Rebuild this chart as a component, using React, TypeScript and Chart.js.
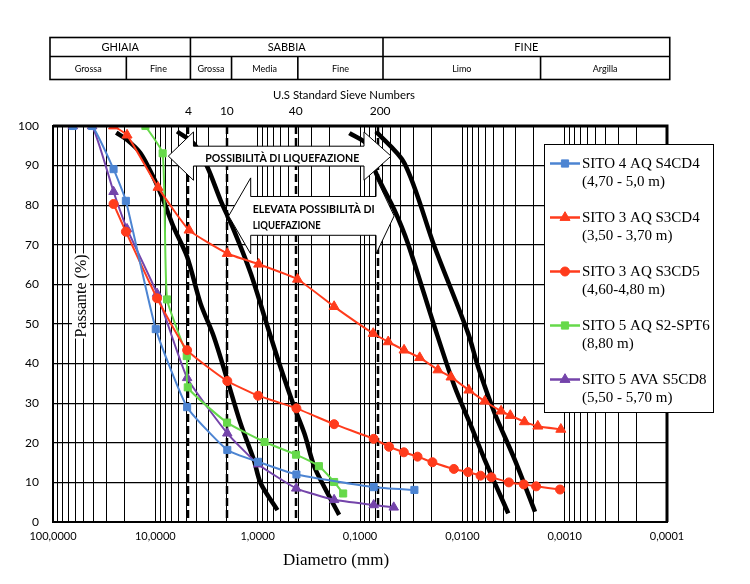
import React, { useEffect, useRef } from "react";
import { Chart, registerables } from "chart.js";

Chart.register(...registerables);

// ---------------- DATA ----------------
// SITO 4 AQ S4CD4
const s4Diam = [64, 41.5, 25.6, 19.4, 9.9, 4.89, 1.98, 0.99, 0.418, 0.0735, 0.0294];
const s4Pass = [100, 100, 89.1, 81.1, 48.7, 29.0, 18.2, 15.2, 12.0, 8.8, 8.1];
// SITO 3 AQ S3CD4
const s3cd4Diam = [25.6, 18.9, 9.41, 4.68, 1.98, 0.977, 0.408, 0.179, 0.0743, 0.053, 0.0371, 0.0261, 0.0173, 0.0129, 0.00863, 0.00604, 0.00418, 0.0034, 0.00247, 0.00183, 0.00109];
const s3cd4Pass = [100, 97.7, 84.5, 73.7, 67.8, 65.1, 61.3, 54.4, 47.6, 45.5, 43.4, 41.5, 38.4, 36.6, 33.3, 30.5, 28.0, 26.9, 25.3, 24.2, 23.4];
// SITO 3 AQ S3CD5
const s3cd5Diam = [25.6, 19.4, 9.62, 4.89, 1.98, 0.99, 0.418, 0.179, 0.0735, 0.052, 0.0373, 0.0274, 0.0196, 0.0121, 0.00879, 0.00664, 0.0052, 0.00351, 0.00251, 0.0019, 0.00111];
const s3cd5Pass = [80.3, 73.3, 56.5, 43.4, 35.6, 31.9, 28.7, 24.7, 21.0, 19.0, 17.6, 16.5, 15.1, 13.4, 12.6, 11.7, 11.3, 10.0, 9.5, 9.0, 8.2];
// SITO 5 AQ S2-SPT6
const s5spt6Diam = [12.5, 8.48, 7.68, 4.93, 4.82, 1.99, 0.857, 0.422, 0.252, 0.179, 0.146];
const s5spt6Pass = [100, 93.1, 56.2, 41.9, 34.0, 25.1, 20.2, 17.0, 14.1, 10.1, 7.2];
// SITO 5 AVA S5CD8
const s5cd8Diam = [64, 41.5, 25.6, 18.9, 9.62, 4.89, 1.98, 0.99, 0.42, 0.179, 0.0735, 0.0468];
const s5cd8Pass = [100, 100, 83.4, 74.0, 57.7, 36.4, 22.4, 14.6, 8.5, 5.6, 4.3, 3.7];

// Liquefaction boundary curves (black)
const bandADiam = [24.1, 18.9, 14.0, 10.5, 8.6, 6.66, 4.89, 3.62, 2.68, 1.98, 1.47, 1.09, 0.935, 0.641];
const bandAPass = [98.3, 96.5, 93.2, 87.2, 82.1, 74.6, 67.0, 55.2, 46.8, 35.9, 24.9, 15.7, 9.8, 3.0];
const bandBDiam = [6.12, 4.22, 3.11, 2.31, 1.71, 1.17, 0.80, 0.60, 0.44, 0.35, 0.28, 0.224, 0.16];
const bandBPass = [98.6, 95.6, 89.7, 81.3, 73.7, 62.8, 49.3, 39.2, 29.1, 22.4, 14.0, 8.9, 1.8];
const bandCDiam = [0.127, 0.0841, 0.0697, 0.0461, 0.0341, 0.0187, 0.0119, 0.00817, 0.00604, 0.00356];
const bandCPass = [98.2, 95.2, 88.1, 78.8, 70.4, 49.3, 34.2, 24.1, 15.7, 2.2];
const bandDDiam = [0.0697, 0.0368, 0.0187, 0.00879, 0.00702, 0.00482, 0.00307, 0.00195];
const bandDPass = [98.6, 90.6, 69.5, 47.7, 39.2, 27.4, 15.7, 2.6];

// Sieves
const sieveSizes = [4.75, 2.0, 0.425, 0.0665];
const sieveLabels = ["4", "10", "40", "200"];

// Axis ticks
const xDecades = [100, 10, 1, 0.1, 0.01, 0.001, 0.0001];
const xMultipliers = [1, 2, 3, 4, 5, 6, 7, 8, 9];
const yTickValues = [0, 10, 20, 30, 40, 50, 60, 70, 80, 90, 100];

// Header classification table
const groupLabels = ["GHIAIA", "SABBIA", "FINE"];
const groupBounds = [107, 4.54, 0.0596, 0.000094];
const subLabels = ["Grossa", "Fine", "Grossa", "Media", "Fine", "Limo", "Argilla"];
const subBounds = [107, 19.2, 4.54, 1.8, 0.405, 0.0596, 0.00172, 0.000094];

// Legend
const seriesNames = ["SITO 4 AQ S4CD4", "SITO 3 AQ S3CD4", "SITO 3 AQ S3CD5", "SITO 5 AQ S2-SPT6", "SITO 5 AVA S5CD8"];
const seriesDepths = ["(4,70 - 5,0 m)", "(3,50 - 3,70 m)", "(4,60-4,80 m)", "(8,80 m)", "(5,50 - 5,70 m)"];

const BLUE = "#4C84D2";
const RED = "#FF3B1C";
const GREEN = "#66D94A";
const PURPLE = "#7444AA";
const seriesColors = [BLUE, RED, RED, GREEN, PURPLE];
const seriesStyles = ["rect", "triangle", "circle", "rect", "triangle"];

// Arrows (diameter / percent)
const arrow1 = { tipL: 7.46, baseL: 4.24, baseR: 0.0914, tipR: 0.0497, yc: 92.4, head: 6.1, shaft: 2.5 };
const arrow2 = { tipL: 1.92, baseL: 1.17, baseR: 0.0697, tipR: 0.0464, yc: 77.3, head: 9.6, shaft: 4.9 };

// ---------------- HELPERS ----------------
const pts = (d: number[], p: number[]) => d.map((v, i) => ({ x: v, y: p[i] }));

const SANS = "Lato, 'Open Sans', sans-serif";
const SERIF = "'Liberation Serif', 'DejaVu Serif', serif";

function drawMarker(ctx: CanvasRenderingContext2D, style: string, x: number, y: number, color: string) {
  ctx.fillStyle = color;
  ctx.strokeStyle = color;
  ctx.lineWidth = 1;
  ctx.beginPath();
  if (style === "rect") {
    const s = 3.6;
    ctx.rect(x - s, y - s, 2 * s, 2 * s);
  } else if (style === "circle") {
    ctx.arc(x, y, 4.5, 0, Math.PI * 2);
  } else {
    const r = 5.8;
    let a = 0;
    ctx.moveTo(x + Math.sin(a) * r, y - Math.cos(a) * r);
    a += (Math.PI * 2) / 3;
    ctx.lineTo(x + Math.sin(a) * r, y - Math.cos(a) * r);
    a += (Math.PI * 2) / 3;
    ctx.lineTo(x + Math.sin(a) * r, y - Math.cos(a) * r);
    ctx.closePath();
  }
  ctx.fill();
  ctx.stroke();
}

function drawDoubleArrow(chart: any, a: any) {
  const { ctx, scales } = chart;
  const x = scales.x, y = scales.y;
  const xl = x.getPixelForValue(a.tipL);
  const xlb = x.getPixelForValue(a.baseL);
  const xrb = x.getPixelForValue(a.baseR);
  const xr = x.getPixelForValue(a.tipR);
  const yc = y.getPixelForValue(a.yc);
  const hh = y.getPixelForValue(a.yc - a.head) - yc;
  const sh = y.getPixelForValue(a.yc - a.shaft) - yc;
  ctx.save();
  ctx.beginPath();
  ctx.moveTo(xl, yc);
  ctx.lineTo(xlb, yc - hh);
  ctx.lineTo(xlb, yc - sh);
  ctx.lineTo(xrb, yc - sh);
  ctx.lineTo(xrb, yc - hh);
  ctx.lineTo(xr, yc);
  ctx.lineTo(xrb, yc + hh);
  ctx.lineTo(xrb, yc + sh);
  ctx.lineTo(xlb, yc + sh);
  ctx.lineTo(xlb, yc + hh);
  ctx.closePath();
  ctx.fillStyle = "#fff";
  ctx.fill();
  ctx.strokeStyle = "#000";
  ctx.lineWidth = 1;
  ctx.stroke();
  ctx.restore();
}

const overlay = {
  id: "overlay",
  beforeDatasetsDraw(chart: any) {
    const { ctx, chartArea: ca, scales } = chart;
    ctx.save();
    ctx.strokeStyle = "#000";
    ctx.lineWidth = 2.5;
    ctx.setLineDash([8, 4]);
    sieveSizes.forEach((v) => {
      const px = Math.round(scales.x.getPixelForValue(v));
      ctx.beginPath();
      ctx.moveTo(px, ca.top);
      ctx.lineTo(px, ca.bottom);
      ctx.stroke();
    });
    ctx.restore();
  },
  afterDatasetsDraw(chart: any) {
    const { ctx, chartArea: ca, scales } = chart;
    const x = scales.x, y = scales.y;

    // arrows
    drawDoubleArrow(chart, arrow1);
    drawDoubleArrow(chart, arrow2);

    ctx.save();
    ctx.fillStyle = "#000";
    ctx.font = `bold 12px ${SANS}`;
    ctx.textAlign = "center";
    ctx.textBaseline = "middle";
    ctx.fillText("POSSIBILITÀ DI LIQUEFAZIONE", x.getPixelForValue(0.575), y.getPixelForValue(91.9), 154);
    ctx.textAlign = "left";
    ctx.fillText("ELEVATA POSSIBILITÀ DI", x.getPixelForValue(1.12), y.getPixelForValue(79.0), 122);
    ctx.fillText("LIQUEFAZIONE", x.getPixelForValue(1.12), y.getPixelForValue(75.0), 68);
    ctx.restore();

    // plot border
    ctx.save();
    ctx.strokeStyle = "#000";
    ctx.lineWidth = 2;
    ctx.strokeRect(ca.left, ca.top, ca.right - ca.left, ca.bottom - ca.top);
    ctx.beginPath();
    ctx.lineWidth = 3;
    ctx.moveTo(ca.left, ca.top);
    ctx.lineTo(ca.right, ca.top);
    ctx.lineTo(ca.right, ca.bottom);
    ctx.stroke();
    ctx.restore();

    // y-axis title inside plot
    ctx.save();
    ctx.font = `16px ${SERIF}`;
    const t = "Passante (%)";
    const tw = ctx.measureText(t).width;
    ctx.translate(81, 296);
    ctx.rotate(-Math.PI / 2);
    ctx.fillStyle = "#fff";
    ctx.fillRect(-tw / 2 - 1, -9, tw + 2, 18);
    ctx.fillStyle = "#000";
    ctx.textAlign = "center";
    ctx.textBaseline = "middle";
    ctx.fillText(t, 0, 1);
    ctx.restore();

    // legend
    ctx.save();
    const lx = 544, ly = 144, lw = 169, lh = 268;
    ctx.fillStyle = "#fff";
    ctx.fillRect(lx, ly, lw, lh);
    ctx.strokeStyle = "#000";
    ctx.lineWidth = 1;
    ctx.strokeRect(lx + 0.5, ly + 0.5, lw, lh);
    ctx.font = `15px ${SERIF}`;
    ctx.textBaseline = "middle";
    ctx.textAlign = "left";
    seriesNames.forEach((name, i) => {
      const yy = 163.5 + i * 54;
      ctx.strokeStyle = seriesColors[i];
      ctx.lineWidth = 2.5;
      ctx.beginPath();
      ctx.moveTo(550, yy);
      ctx.lineTo(580, yy);
      ctx.stroke();
      drawMarker(ctx, seriesStyles[i], 565, yy, seriesColors[i]);
      ctx.fillStyle = "#000";
      ctx.fillText(name, 582, yy + 1);
      ctx.fillText(seriesDepths[i], 582, yy + 19);
    });
    ctx.restore();
  },
  afterDraw(chart: any) {
    const { ctx, scales } = chart;
    const x = scales.x;
    ctx.save();
    // header table
    const top = 37.5, mid = 56.5, bot = 79.5;
    ctx.strokeStyle = "#000";
    ctx.lineWidth = 1.6;
    const gx = groupBounds.map((v) => x.getPixelForValue(v));
    const sx = subBounds.map((v) => x.getPixelForValue(v));
    ctx.strokeRect(gx[0], top, gx[gx.length - 1] - gx[0], bot - top);
    ctx.beginPath();
    ctx.moveTo(gx[0], mid);
    ctx.lineTo(gx[gx.length - 1], mid);
    gx.slice(1, -1).forEach((px) => {
      ctx.moveTo(px, top);
      ctx.lineTo(px, bot);
    });
    sx.slice(1, -1).forEach((px) => {
      ctx.moveTo(px, mid);
      ctx.lineTo(px, bot);
    });
    ctx.stroke();
    ctx.fillStyle = "#000";
    ctx.textAlign = "center";
    ctx.textBaseline = "middle";
    ctx.font = `11px ${SANS}`;
    groupLabels.forEach((l, i) => ctx.fillText(l, (gx[i] + gx[i + 1]) / 2, (top + mid) / 2 + 0.5));
    ctx.font = `9px ${SANS}`;
    subLabels.forEach((l, i) => ctx.fillText(l, (sx[i] + sx[i + 1]) / 2, (mid + bot) / 2 + 1));

    // sieve labels
    ctx.font = `12px ${SANS}`;
    ctx.fillText("U.S Standard Sieve Numbers", 344, 95, 142);
    sieveLabels.forEach((l, i) => {
      const px = x.getPixelForValue(sieveSizes[i]);
      ctx.fillText(l, px + (i === 3 ? 2 : 0), 111);
    });

    // x title
    ctx.font = `17px ${SERIF}`;
    ctx.fillText("Diametro (mm)", 336, 561);
    ctx.restore();
  },
};

const xGridValues: number[] = [];
[0.0001, 0.001, 0.01, 0.1, 1, 10].forEach((dec) => {
  xMultipliers.forEach((m) => xGridValues.push(+(m * dec).toPrecision(6)));
});
xGridValues.push(100);

const isDecade = (v: number) => xDecades.some((d) => Math.abs(d - v) / d < 1e-6);

export default function App() {
  const ref = useRef<HTMLCanvasElement>(null);
  useEffect(() => {
    const canvas = ref.current!;
    const seriesD = [s4Diam, s3cd4Diam, s3cd5Diam, s5spt6Diam, s5cd8Diam];
    const seriesP = [s4Pass, s3cd4Pass, s3cd5Pass, s5spt6Pass, s5cd8Pass];
    const radii = [5, 5.8, 4.5, 5, 5.5];
    const datasets: any[] = seriesNames.map((name, i) => ({
      label: name,
      data: pts(seriesD[i], seriesP[i]),
      showLine: true,
      borderColor: seriesColors[i],
      backgroundColor: seriesColors[i],
      pointBackgroundColor: seriesColors[i],
      pointBorderColor: seriesColors[i],
      pointStyle: seriesStyles[i],
      pointRadius: radii[i],
      pointBorderWidth: 1,
      borderWidth: 2,
      tension: 0.15,
      order: 1,
    }));
    [
      [bandADiam, bandAPass],
      [bandBDiam, bandBPass],
      [bandCDiam, bandCPass],
      [bandDDiam, bandDPass],
    ].forEach(([d, p], i) => {
      datasets.push({
        label: "limite " + i,
        data: pts(d, p),
        showLine: true,
        borderColor: "#000",
        backgroundColor: "#000",
        pointRadius: 0,
        borderWidth: 4.5,
        tension: 0.3,
        order: 10,
      });
    });

    const chart = new Chart(canvas, {
      type: "scatter",
      data: { datasets },
      options: {
        animation: false,
        responsive: false,
        devicePixelRatio: 1,
        layout: { padding: { top: 126, right: 83, left: 0, bottom: 0 } },
        plugins: { legend: { display: false }, tooltip: { enabled: false } },
        scales: {
          x: {
            type: "logarithmic",
            reverse: true,
            min: 0.0001,
            max: 100,
            afterBuildTicks: (s: any) => {
              s.ticks = xGridValues.map((v) => ({ value: v }));
            },
            afterFit: (s: any) => {
              s.height = 62;
            },
            ticks: {
              autoSkip: false,
              maxRotation: 0,
              padding: 8,
              color: "#000",
              font: { family: SANS, size: 11 },
              callback: (v: any) => (isDecade(Number(v)) ? Number(v).toFixed(4).replace(".", ",") : ""),
            },
            grid: { color: "#000", lineWidth: 1, drawTicks: false },
            border: { color: "#000", width: 2 },
          },
          y: {
            type: "linear",
            min: 0,
            max: 100,
            afterBuildTicks: (s: any) => {
              s.ticks = yTickValues.map((v) => ({ value: v }));
            },
            afterFit: (s: any) => {
              s.width = 53;
            },
            ticks: {
              padding: 14,
              color: "#000",
              font: { family: SANS, size: 12 },
            },
            grid: { color: "#000", lineWidth: 1.2, drawTicks: false },
            border: { color: "#000", width: 2 },
          },
        },
      } as any,
      plugins: [overlay],
    });
    return () => chart.destroy();
  }, []);

  return (
    <div style={{ position: "absolute", left: 0, top: 0, width: 750, height: 584, background: "#fff" }}>
      <canvas ref={ref} width={750} height={584} style={{ width: 750, height: 584, display: "block" }} />
    </div>
  );
}
